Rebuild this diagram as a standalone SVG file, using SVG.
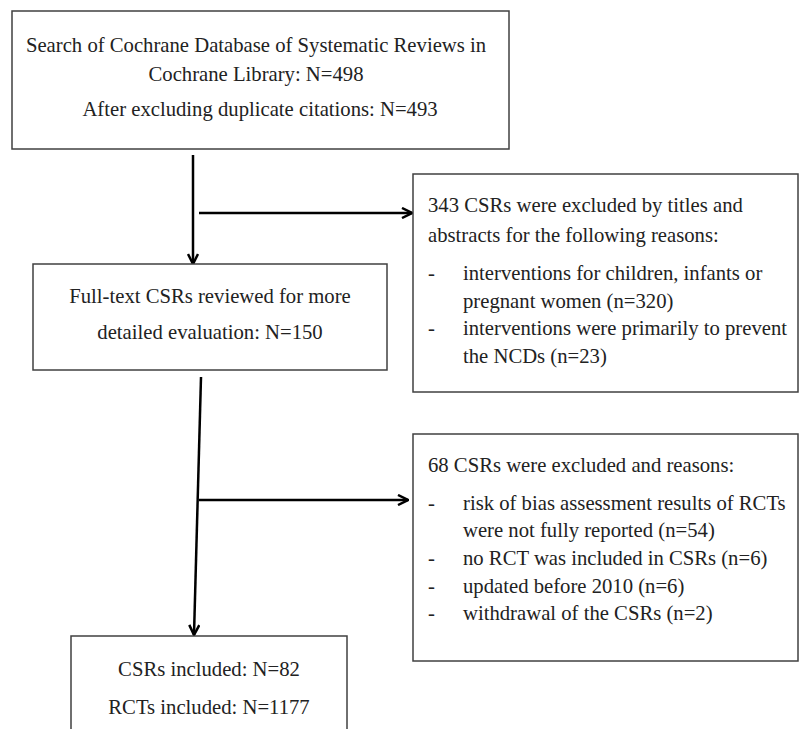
<svg xmlns="http://www.w3.org/2000/svg" width="800" height="729" viewBox="0 0 800 729">
<style>
.box{fill:#fff;stroke:#404040;stroke-width:1.5}
.t{font-family:"Liberation Serif","Times New Roman",serif;font-size:20.7px;fill:#222}
.c{text-anchor:middle}
.conn{stroke:#000;stroke-width:2.5;fill:none}
</style>
<defs>
<marker id="ah" viewBox="0 0 12 12" refX="11" refY="6" markerWidth="12" markerHeight="12" markerUnits="userSpaceOnUse" orient="auto">
<path d="M1,1 L11,6 L1,11" fill="none" stroke="#000" stroke-width="2.5"/>
</marker>
</defs>
<rect width="800" height="729" fill="#fff"/>
<g id="connectors">
<path class="conn" d="M193,155 L193,264" marker-end="url(#ah)"/>
<path class="conn" d="M199,213 L412,213" marker-end="url(#ah)"/>
<path class="conn" d="M201,377 L194,635" marker-end="url(#ah)"/>
<path class="conn" d="M199,500 L408,500" marker-end="url(#ah)"/>
</g>
<g id="search">
<rect class="box" x="12" y="11" width="497" height="138"/>
<text class="t c" x="256" y="52">Search of Cochrane Database of Systematic Reviews in</text>
<text class="t c" x="256" y="81">Cochrane Library: N=498</text>
<text class="t c" x="260" y="116">After excluding duplicate citations: N=493</text>
</g>
<g id="fulltext">
<rect class="box" x="33" y="264" width="354" height="106"/>
<text class="t c" x="210" y="303">Full-text CSRs reviewed for more</text>
<text class="t c" x="210" y="339">detailed evaluation: N=150</text>
</g>
<g id="excluded1">
<rect class="box" x="413" y="174" width="385" height="218"/>
<text class="t" x="428" y="212">343 CSRs were excluded by titles and</text>
<text class="t" x="428" y="242">abstracts for the following reasons:</text>
<text class="t" x="428" y="280">-</text>
<text class="t" x="463" y="280">interventions for children, infants or</text>
<text class="t" x="463" y="308">pregnant women (n=320)</text>
<text class="t" x="428" y="335">-</text>
<text class="t" x="463" y="335">interventions were primarily to prevent</text>
<text class="t" x="463" y="363">the NCDs (n=23)</text>
</g>
<g id="excluded2">
<rect class="box" x="413" y="434" width="385" height="227"/>
<text class="t" x="428" y="472">68 CSRs were excluded and reasons:</text>
<text class="t" x="428" y="510">-</text>
<text class="t" x="463" y="510">risk of bias assessment results of RCTs</text>
<text class="t" x="463" y="537">were not fully reported (n=54)</text>
<text class="t" x="428" y="565">-</text>
<text class="t" x="463" y="565">no RCT was included in CSRs (n=6)</text>
<text class="t" x="428" y="593">-</text>
<text class="t" x="463" y="593">updated before 2010 (n=6)</text>
<text class="t" x="428" y="620">-</text>
<text class="t" x="463" y="620">withdrawal of the CSRs (n=2)</text>
</g>
<g id="included">
<rect class="box" x="71" y="636" width="276" height="110"/>
<text class="t c" x="209" y="676">CSRs included: N=82</text>
<text class="t c" x="209" y="714">RCTs included: N=1177</text>
</g>
</svg>
